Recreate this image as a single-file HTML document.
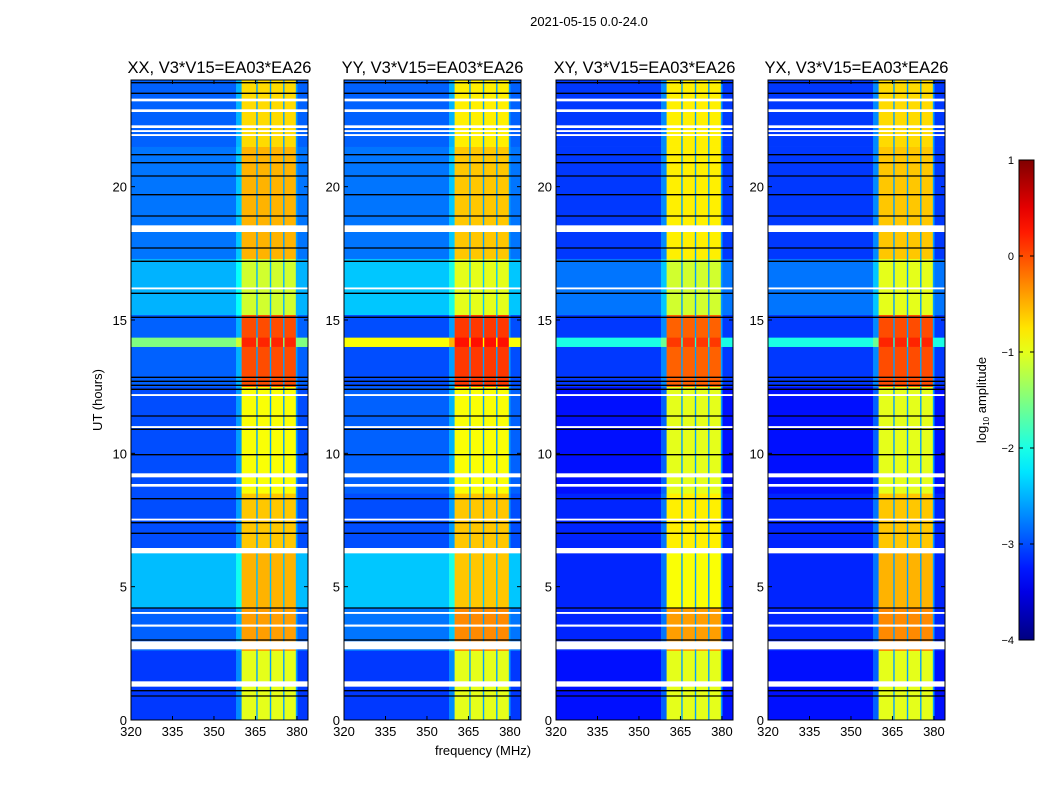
<!DOCTYPE html>
<html><head><meta charset="utf-8"><style>
body{margin:0;background:#fff;}
svg text{font-family:"Liberation Sans",sans-serif;fill:#000;}
</style></head><body>
<svg id="fig" width="1050" height="800" viewBox="0 0 1050 800" xmlns="http://www.w3.org/2000/svg">
<text x="589" y="26" font-size="13" text-anchor="middle">2021-05-15 0.0-24.0</text>
<text transform="translate(102,400) rotate(-90)" font-size="13" text-anchor="middle">UT (hours)</text>
<text x="483" y="755" font-size="13" text-anchor="middle">frequency (MHz)</text>
<g id="panels"></g>
<g id="cbar"></g>
</svg>
<script>
// ---- data ----
const panelTitles = ["XX, V3*V15=EA03*EA26","YY, V3*V15=EA03*EA26","XY, V3*V15=EA03*EA26","YX, V3*V15=EA03*EA26"];
const segStarts = [0,2.6,4.2,6.4,8.5,12.5,14.0,14.35,15.2,17.3,21.5];
const segEnd = 24;
const bgXX = [-3.1,-2.9,-2.45,-3.0,-3.0,-2.9,-1.5,-2.9,-2.5,-2.8,-2.9];
const rfiXX = [-1.0,-0.4,-0.5,-0.6,-0.9,0.0,0.2,0.0,-1.1,-0.5,-0.7];
const bgYY = [-3.1,-2.8,-2.4,-3.0,-2.9,-3.0,-0.9,-3.0,-2.4,-2.8,-2.9];
const rfiYY = [-1.0,-0.3,-0.6,-0.6,-0.9,0.1,0.3,0.1,-1.0,-0.6,-0.8];
const bgXY = [-3.3,-3.2,-3.2,-3.2,-3.3,-3.1,-2.0,-3.1,-2.8,-3.1,-3.1];
const rfiXY = [-1.0,-0.4,-0.9,-0.8,-1.0,-0.1,0.1,-0.1,-1.1,-0.8,-0.8];
const bgYX = [-3.3,-3.2,-3.2,-3.2,-3.3,-3.1,-2.0,-3.1,-2.8,-3.1,-3.1];
const rfiYX = [-1.0,-0.3,-0.5,-0.6,-1.0,0.0,0.2,0.0,-1.0,-0.6,-0.7];
const freqEdges = [320,358,360,365.3,365.8,370.2,370.7,375,375.5,379.6,380.2,384];
const colKind = ['bg','edge','rfi','gap','rfi','gap','rfi','gap','rfi','gap','bg'];
const gapLevel = -2.6;
const whiteFlags = [[1.25,1.45],[2.65,2.95],[3.5,3.58],[3.98,4.05],[6.25,6.45],[7.48,7.55],[8.75,8.85],[9.1,9.25],[10.95,11.02],[12.15,12.22],[16.15,16.22],[18.3,18.55],[21.9,21.97],[22.05,22.12],[22.2,22.3],[22.8,22.9],[23.2,23.3]];
const blackLines = [0.9,1.1,3.0,4.2,7.0,7.4,8.3,9.95,10.9,11.4,12.4,12.55,12.7,12.85,15.1,16.0,17.2,17.7,18.9,19.7,20.4,20.9,21.2,23.5,23.9];
const xTicks = [320,335,350,365,380];
const yTicks = [0,5,10,15,20];
const cbTicks = [1,0,-1,-2,-3,-4];
const panelLeft = [131,344,556,768];
// ---- scales ----
const PW=177, TOP=80, BOT=720;
const fMin=320,fMax=384,hMin=0,hMax=24;
const panelBg=[bgXX,bgYY,bgXY,bgYX], panelRfi=[rfiXX,rfiYY,rfiXY,rfiYX];
function xs(f,x0){return x0+(f-fMin)/(fMax-fMin)*PW;}
function ys(h){return BOT-(h-hMin)/(hMax-hMin)*(BOT-TOP);}
function jet(v){
  let t=(v+4)/5; t=Math.max(0,Math.min(1,t));
  const c=x=>Math.round(255*Math.max(0,Math.min(1,x)));
  const r=c(Math.min(4*t-1.5,-4*t+4.5)),g=c(Math.min(4*t-0.5,-4*t+3.5)),b=c(Math.min(4*t+0.5,-4*t+2.5));
  return `rgb(${r},${g},${b})`;
}
const NS="http://www.w3.org/2000/svg";
function mk(tag,attrs,parent){const e=document.createElementNS(NS,tag);for(const k in attrs)e.setAttribute(k,attrs[k]);parent.appendChild(e);return e;}
const panels=document.getElementById('panels');
panelLeft.forEach((x0,p)=>{
  const g=mk('g',{},panels);
  
  
  const hm=mk('g',{},g);
  
  
  for(let s=0;s<segStarts.length;s++){
    const h0=segStarts[s],h1=s+1<segStarts.length?segStarts[s+1]:segEnd;
    for(let c=0;c<colKind.length;c++){
      const k=colKind[c];
      let v=panelBg[p][s];
      if(k==='rfi')v=panelRfi[p][s];
      else if(k==='gap')v=Math.max(gapLevel,panelBg[p][s]);
      else if(k==='edge')v=panelBg[p][s]+0.4;
      const xa=xs(freqEdges[c],x0),xb=xs(freqEdges[c+1],x0);
      const r=mk('rect',{x:xa.toFixed(2),y:ys(h1).toFixed(2),width:(xb-xa+0.3).toFixed(2),height:(ys(h0)-ys(h1)+0.3).toFixed(2),fill:jet(v)},hm);
      
      
    }
  }
  whiteFlags.forEach(f=>{
    const r=mk('rect',{x:x0,y:ys(f[1]),width:PW,height:ys(f[0])-ys(f[1]),fill:'#fff'},g);
    
    
  });
  blackLines.forEach(h=>{
    const l=mk('line',{x1:x0,x2:x0+PW,y1:ys(h),y2:ys(h),stroke:'#000','stroke-width':1.3},g);
    
    
  });
  const fr=mk('rect',{x:x0,y:TOP,width:PW,height:BOT-TOP,fill:'none',stroke:'#000','stroke-width':1},g);
  
  
  const t=mk('text',{x:x0+PW/2,y:TOP-7,'font-size':16.5,'text-anchor':'middle'},g);
  t.textContent=panelTitles[p];
  
  
  xTicks.forEach(f=>{
    const x=xs(f,x0);
    mk('line',{x1:x,x2:x,y1:BOT,y2:BOT-4,stroke:'#000'},g);
    mk('line',{x1:x,x2:x,y1:TOP,y2:TOP+4,stroke:'#000'},g);
    const tl=mk('text',{x:x,y:BOT+16,'font-size':13,'text-anchor':'middle'},g);
    tl.textContent=f;
    
    
  });
  yTicks.forEach(h=>{
    const y=ys(h);
    mk('line',{x1:x0,x2:x0+4,y1:y,y2:y,stroke:'#000'},g);
    mk('line',{x1:x0+PW,x2:x0+PW-4,y1:y,y2:y,stroke:'#000'},g);
    const tl=mk('text',{x:x0-4,y:y+5,'font-size':13,'text-anchor':'end'},g);
    tl.textContent=h;
    
    
  });
});
// colorbar
const cb=document.getElementById('cbar');
const CX=1019,CW=15,CT=160,CB=640;
const defs=mk('defs',{},cb);
const lg=mk('linearGradient',{id:'jetg',x1:0,y1:1,x2:0,y2:0},defs);
for(let i=0;i<=20;i++){mk('stop',{offset:i/20,'stop-color':jet(-4+5*i/20)},lg);}
const cr=mk('rect',{x:CX,y:CT,width:CW,height:CB-CT,fill:'url(#jetg)',stroke:'#000','stroke-width':1},cb);


cbTicks.forEach(v=>{
  const y=CT+(1-v)/5*(CB-CT);
  mk('line',{x1:CX,x2:CX+4,y1:y,y2:y,stroke:'#000'},cb);
  mk('line',{x1:CX+CW,x2:CX+CW-4,y1:y,y2:y,stroke:'#000'},cb);
  const tl=mk('text',{x:CX-5,y:y+4,'font-size':11,'text-anchor':'end'},cb);
  tl.textContent=v<0?'\u2212'+(-v):String(v);
  
  
});
const cl=mk('text',{transform:'translate(986,400) rotate(-90)','font-size':13,'text-anchor':'middle'},cb);
cl.innerHTML='log<tspan font-size="8" dy="3">10</tspan><tspan dy="-3"> amplitude</tspan>';


</script>
</body></html>
